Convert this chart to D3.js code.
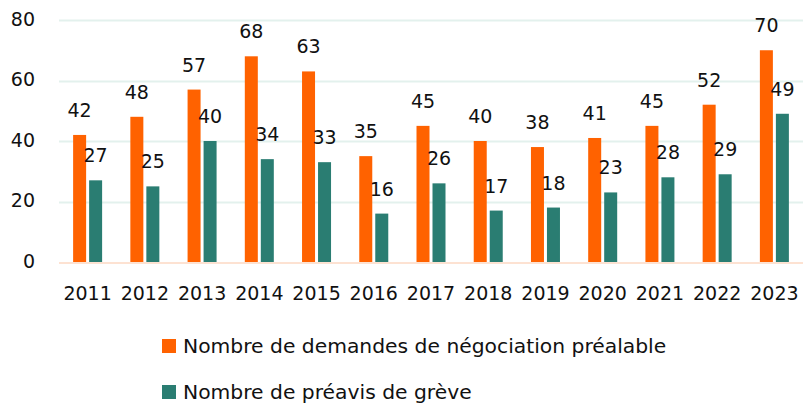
<!DOCTYPE html>
<html lang="fr">
<head>
    <meta charset="UTF-8"/>
    <title>Négociations et préavis</title>
    <script src="https://d3js.org/d3.v7.min.js"></script>
    <style>
        body { margin: 0; background: #fff; }
        text { font-family: "DejaVu Sans", sans-serif; fill: #111; }
    </style>
</head>
<body>
<div class="chart"></div>

<script>
    const years = ["2011", "2012", "2013", "2014", "2015", "2016", "2017", "2018", "2019", "2020", "2021", "2022", "2023"];
    const demandes = [42, 48, 57, 68, 63, 35, 45, 40, 38, 41, 45, 52, 70];
    const preavis = [27, 25, 40, 34, 33, 16, 26, 17, 18, 23, 28, 29, 49];
    const seriesNames = ["Nombre de demandes de négociation préalable", "Nombre de préavis de grève"];
    const colors = ["#ff6200", "#2a7d72"];
    const yTicks = [0, 20, 40, 60, 80];

    const width = 803, height = 405;
    const margin = {top: 20, right: 0, bottom: 143, left: 59};
    const fontSize = "19px";

    const svg = d3.select(".chart")
        .append("svg")
        .attr("width", width)
        .attr("height", height);

    const x0 = d3.scaleBand()
        .domain(years)
        .range([margin.left, width - margin.right]);

    const x1 = d3.scaleBand()
        .domain([0, 1])
        .range([0, 29])
        .paddingInner(3 / 16);

    const y = d3.scaleLinear()
        .domain([0, 80])
        .range([height - margin.bottom, margin.top]);

    // gridlines
    svg.append("g")
        .selectAll("line")
        .data(yTicks.filter(d => d > 0))
        .join("line")
        .attr("x1", margin.left)
        .attr("x2", width)
        .attr("y1", d => Math.round(y(d)) + 0.5)
        .attr("y2", d => Math.round(y(d)) + 0.5)
        .attr("stroke", "#e3f1ed")
        .attr("stroke-width", 2);

    // Y axis labels
    const yAxis = svg.append("g")
        .attr("transform", `translate(${margin.left}, 0)`)
        .call(d3.axisLeft(y).tickValues(yTicks).tickSize(0).tickPadding(24));
    yAxis.select(".domain").remove();
    yAxis.selectAll("text")
        .style("font-size", fontSize)
        .attr("dy", "0.28em");

    const data = years.map((yr, i) => ({year: yr, values: [demandes[i], preavis[i]]}));
    const groupOffset = (x0.bandwidth() - 29) / 2;

    const groups = svg.append("g")
        .selectAll("g")
        .data(data)
        .join("g")
        .attr("transform", d => `translate(${x0(d.year) + groupOffset}, 0)`);

    groups.selectAll("rect")
        .data(d => d.values.map((v, k) => ({v, k})))
        .join("rect")
        .attr("x", d => x1(d.k))
        .attr("y", d => y(d.v))
        .attr("width", x1.bandwidth())
        .attr("height", d => y(0) - y(d.v))
        .attr("fill", d => colors[d.k]);

    groups.selectAll("text.lbl")
        .data(d => d.values.map((v, k) => ({v, k})))
        .join("text")
        .attr("class", "lbl")
        .attr("x", d => x1(d.k) + x1.bandwidth() / 2)
        .attr("y", d => y(d.v) - 18)
        .attr("text-anchor", "middle")
        .style("font-size", fontSize)
        .text(d => d.v);

    // baseline
    svg.append("line")
        .attr("x1", margin.left)
        .attr("x2", width)
        .attr("y1", y(0) + 1)
        .attr("y2", y(0) + 1)
        .attr("stroke", "#fde2d2")
        .attr("stroke-width", 2);

    // X axis labels
    const xAxis = svg.append("g")
        .attr("transform", `translate(0, ${y(0)})`)
        .call(d3.axisBottom(x0).tickSize(0).tickPadding(0));
    xAxis.select(".domain").remove();
    xAxis.selectAll("text")
        .style("font-size", fontSize)
        .attr("y", 38)
        .attr("dy", null);

    // legend
    const legend = svg.append("g")
        .selectAll("g")
        .data(seriesNames)
        .join("g")
        .attr("transform", (d, i) => `translate(162, ${339 + i * 46})`);

    legend.append("rect")
        .attr("width", 14)
        .attr("height", 14)
        .attr("fill", (d, i) => colors[i]);

    legend.append("text")
        .attr("x", 21)
        .attr("y", 14)
        .style("font-size", "20.3px")
        .text(d => d);
</script>
</body>
</html>
